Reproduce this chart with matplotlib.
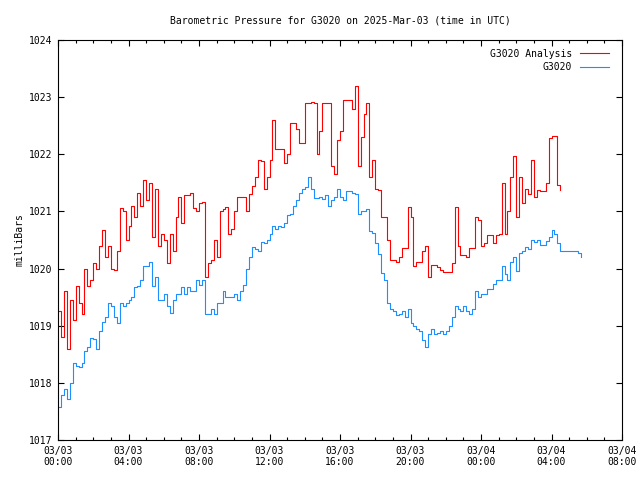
import numpy as np
import matplotlib
matplotlib.use("Agg")
import matplotlib.pyplot as plt
from matplotlib.ticker import MultipleLocator, FixedLocator
from datetime import datetime, timedelta

# Sampling interval of readings (minutes)
step_min = 10

analysis = [
    1019.25, 1018.8, 1019.6, 1018.6, 1019.45, 1019.1, 1019.7, 1019.4, 1019.2, 1020.0,
    1019.7, 1019.8, 1020.1, 1020.0, 1020.4, 1020.67, 1020.2, 1020.4, 1020.0, 1019.98,
    1020.3, 1021.06, 1021.0, 1020.5, 1020.75, 1021.1, 1020.9, 1021.33, 1021.1, 1021.55,
    1021.2, 1021.5, 1020.55, 1021.4, 1020.4, 1020.6, 1020.5, 1020.1, 1020.6, 1020.3,
    1020.9, 1021.25, 1020.8, 1021.28, 1021.28, 1021.32, 1021.06, 1021.0, 1021.15, 1021.17,
    1019.85, 1020.1, 1020.15, 1020.5, 1020.2, 1021.0, 1021.05, 1021.07, 1020.6, 1020.7,
    1021.0, 1021.25, 1021.25, 1021.25, 1021.0, 1021.3, 1021.45, 1021.6, 1021.9, 1021.88,
    1021.4, 1021.6, 1021.9, 1022.6, 1022.1, 1022.1, 1022.1, 1021.85, 1022.0, 1022.55,
    1022.55, 1022.45, 1022.2, 1022.2, 1022.9, 1022.9, 1022.92, 1022.9, 1022.0, 1022.4,
    1022.9, 1022.9, 1022.9, 1021.8, 1021.65, 1022.25, 1022.4, 1022.95, 1022.95, 1022.95,
    1022.8, 1023.2, 1021.8, 1022.3, 1022.7, 1022.9, 1021.6, 1021.9, 1021.4, 1021.37,
    1020.9, 1020.9, 1020.5, 1020.15, 1020.15, 1020.12, 1020.2, 1020.36, 1020.36, 1021.07,
    1020.9, 1020.05, 1020.12, 1020.12, 1020.3, 1020.4, 1019.85, 1020.06, 1020.06, 1020.02,
    1019.97, 1019.94, 1019.94, 1019.94, 1020.1, 1021.08, 1020.4, 1020.24, 1020.24, 1020.2,
    1020.36, 1020.36, 1020.9, 1020.85, 1020.4, 1020.45, 1020.58, 1020.58, 1020.45, 1020.58,
    1020.6, 1021.5, 1020.6, 1021.0, 1021.6, 1021.97, 1020.9, 1021.6, 1021.15, 1021.4,
    1021.3, 1021.9, 1021.25, 1021.37, 1021.35, 1021.35, 1021.5, 1022.28, 1022.32, 1022.32,
    1021.46, 1021.37,
]

station = [
    1017.58, 1017.78, 1017.9, 1017.72, 1018.0, 1018.35, 1018.3, 1018.28, 1018.35, 1018.55,
    1018.63, 1018.78, 1018.76, 1018.6, 1018.9, 1019.07, 1019.15, 1019.4, 1019.35, 1019.15,
    1019.05, 1019.4, 1019.35, 1019.4, 1019.45, 1019.5, 1019.68, 1019.7, 1019.8, 1020.05,
    1020.05, 1020.12, 1019.7, 1019.85, 1019.45, 1019.45, 1019.55, 1019.35, 1019.22, 1019.45,
    1019.55, 1019.55, 1019.68, 1019.55, 1019.68, 1019.6, 1019.6, 1019.8, 1019.72, 1019.8,
    1019.2, 1019.2, 1019.3, 1019.2, 1019.4, 1019.4, 1019.6, 1019.5, 1019.5, 1019.5,
    1019.55, 1019.45, 1019.6, 1019.72, 1020.0, 1020.2, 1020.38, 1020.35, 1020.3, 1020.47,
    1020.45, 1020.5, 1020.6, 1020.75, 1020.7, 1020.75, 1020.72, 1020.8, 1020.93, 1020.95,
    1021.1, 1021.2, 1021.32, 1021.4, 1021.42, 1021.6, 1021.4, 1021.23, 1021.23, 1021.25,
    1021.22, 1021.28, 1021.1, 1021.2, 1021.25, 1021.4, 1021.25, 1021.2, 1021.35, 1021.35,
    1021.32, 1021.3, 1020.95, 1021.0, 1021.0, 1021.05, 1020.65, 1020.62, 1020.45, 1020.25,
    1019.92, 1019.8, 1019.4, 1019.3, 1019.25, 1019.18, 1019.2, 1019.25, 1019.15, 1019.3,
    1019.05, 1019.0, 1018.95, 1018.9, 1018.75, 1018.62, 1018.85, 1018.95, 1018.85, 1018.88,
    1018.9, 1018.85, 1018.9, 1019.0, 1019.15, 1019.35, 1019.3, 1019.25, 1019.35, 1019.25,
    1019.2, 1019.3, 1019.6, 1019.5, 1019.55, 1019.55, 1019.65, 1019.65, 1019.73, 1019.8,
    1019.8, 1020.05, 1019.9, 1019.8, 1020.12, 1020.2, 1019.95, 1020.28, 1020.3, 1020.37,
    1020.35, 1020.5, 1020.47, 1020.5, 1020.42, 1020.42, 1020.48, 1020.55, 1020.68, 1020.6,
    1020.45, 1020.3, 1020.3, 1020.3, 1020.3, 1020.3, 1020.3, 1020.27, 1020.2,
]

series_names = ["G3020 Analysis", "G3020"]
series_colors = ["#ff0000", "#1e8fff"]
start = datetime(2025, 3, 3, 0, 0)
major_hours = [0, 4, 8, 12, 16, 20, 24, 28, 32]
tick_labels = [(start + timedelta(hours=h)).strftime("%m/%d\n%H:%M") for h in major_hours]
title = "Barometric Pressure for G3020 on 2025-Mar-03 (time in UTC)"
ylabel = "milliBars"

t_an = np.arange(len(analysis)) * step_min / 60.0
t_st = np.arange(len(station)) * step_min / 60.0

font = ["DejaVu Sans Mono"]
plt.rcParams["font.family"] = font
fs = 7

fig = plt.figure(figsize=(6.4, 4.8), dpi=100)
ax = fig.add_axes([58 / 640, 40 / 480, (622 - 58) / 640, 400 / 480])

ax.plot(t_an, analysis, color=series_colors[0], lw=0.8, label=series_names[0],
        drawstyle="steps-post")
ax.plot(t_st, station, color=series_colors[1], lw=0.8, label=series_names[1],
        drawstyle="steps-post")

ax.set_xlim(0, 32)
ax.set_ylim(1017, 1024)
ax.xaxis.set_major_locator(FixedLocator(major_hours))
ax.set_xticklabels(tick_labels, fontsize=fs)
ax.xaxis.set_minor_locator(MultipleLocator(1))
ax.yaxis.set_major_locator(MultipleLocator(1))
ax.tick_params(axis="y", labelsize=fs)
ax.yaxis.set_major_formatter(matplotlib.ticker.FormatStrFormatter("%d"))
ax.tick_params(which="both", direction="in", top=True, right=True, width=0.8)
ax.tick_params(which="major", length=4.5, pad=4)
ax.tick_params(which="minor", length=2.5)
for s in ax.spines.values():
    s.set_linewidth(0.8)

ax.set_title(title, fontsize=fs, pad=12)
ax.set_ylabel(ylabel, fontsize=fs, labelpad=3)

leg = ax.legend(loc="upper right", frameon=False, fontsize=fs, markerfirst=False,
                handlelength=3.0, handletextpad=0.8, borderaxespad=0.5, labelspacing=0.35,
                bbox_to_anchor=(0.992, 1.0))

fig.savefig("out.png", dpi=100)
